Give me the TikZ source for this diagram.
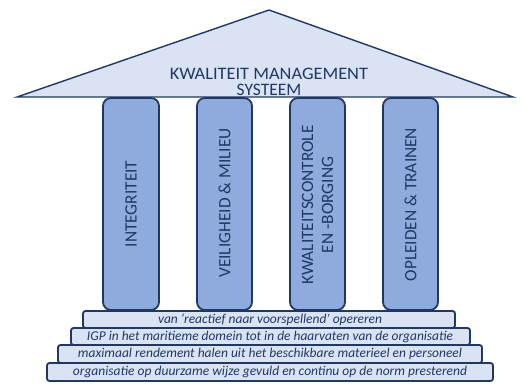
\documentclass[tikz,border=0pt]{standalone}
\usepackage{fontspec}
\setmainfont{Carlito}
\definecolor{navy}{HTML}{1F3864}
\definecolor{rooffill}{HTML}{DAE3F3}
\definecolor{pillarfill}{HTML}{8FAADC}
\definecolor{stepfill}{HTML}{DAE3F3}
\tikzset{
  pillar/.style={draw=navy, line width=1.8pt, fill=pillarfill, rounded corners=8pt},
  stepbox/.style={draw=navy, line width=1.8pt, fill=stepfill, rounded corners=2.5pt},
  pillartext/.style={text=navy, font=\fontsize{17.3}{20}\selectfont, align=center, rotate=90},
  steptext/.style={text=navy, font=\fontsize{13.5}{14}\selectfont\itshape, inner sep=0pt},
}
\newcommand{\fitw}[2]{\resizebox{#1pt}{\height}{#2}}
\begin{document}
\begin{tikzpicture}[x=1pt,y=-1pt]
\useasboundingbox (0,0) rectangle (526,383);
% roof
\draw[draw=navy, line width=1.4pt, fill=rooffill, line join=miter] (17,97) -- (269,10) -- (513,97) -- cycle;
\node[text=navy, font=\fontsize{17.5}{16}\selectfont, align=center, inner sep=0pt] (roof) at (269,81.5) {\resizebox{198pt}{\height}{KWALITEIT MANAGEMENT}\\SYSTEEM};
% pillars
\draw[pillar] (103,310) rectangle (159,98);
\draw[pillar] (197,310) rectangle (252,98);
\draw[pillar] (290,310) rectangle (345,98);
\draw[pillar] (383,310) rectangle (438,98);
\node[pillartext] (p1) at (131,204) {INTEGRITEIT};
\node[pillartext] (p2) at (224.5,203) {VEILIGHEID \& MILIEU};
\node[pillartext] (p3) at (317.5,205) {KWALITEITSCONTROLE\\EN -BORGING};
\node[pillartext] (p4) at (410.5,204.5) {OPLEIDEN \& TRAINEN};
% steps
\draw[stepbox] (83,311) rectangle (455,328);
\node[steptext] (s1) at (270,319.5) {\fitw{224}{van ‘reactief naar voorspellend’ opereren}};
\draw[stepbox] (71,328) rectangle (470,345);
\node[steptext] (s2) at (270,336.5) {\fitw{366}{IGP in het maritieme domein tot in de haarvaten van de organisatie}};
\draw[stepbox] (58,345) rectangle (482,363);
\node[steptext] (s3) at (270,354) {\fitw{384}{maximaal rendement halen uit het beschikbare materieel en personeel}};
\draw[stepbox] (47,363) rectangle (493,381);
\node[steptext] (s4) at (270,372) {\fitw{394}{organisatie op duurzame wijze gevuld en continu op de norm presterend}};
\end{tikzpicture}
\end{document}
